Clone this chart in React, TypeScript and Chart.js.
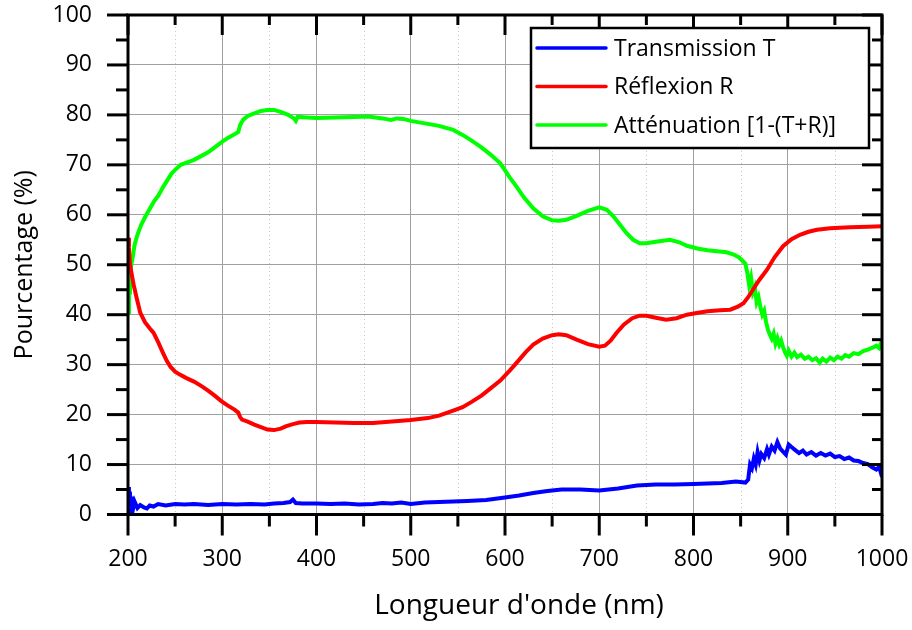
import React, { useEffect, useRef } from "react";
import { Chart, registerables } from "chart.js";

Chart.register(...registerables);

// ---- Data ----
const transX = [200, 201, 202, 203, 204, 205, 207, 210, 213, 217, 220, 223, 227, 232, 240, 250, 260, 270, 285, 300, 315, 330, 345, 355, 365, 372, 375, 378, 385, 400, 415, 430, 445, 460, 470, 480, 490, 500, 515, 530, 545, 560, 580, 600, 615, 630, 645, 660, 680, 700, 720, 740, 760, 780, 800, 815, 830, 845, 855, 858, 860, 862, 864, 866, 868, 870, 872, 875, 878, 880, 883, 886, 889, 892, 895, 898, 901, 904, 908, 912, 916, 920, 925, 930, 935, 940, 945, 950, 955, 960, 965, 970, 975, 980, 985, 990, 994, 997, 1000];
const transmission = [5.5, 1.5, 4.6, 0.3, 3.6, 0.8, 2.6, 1.3, 1.9, 1.4, 1.2, 1.8, 1.6, 2.1, 1.8, 2.1, 2.0, 2.1, 1.9, 2.1, 2.0, 2.1, 2.0, 2.2, 2.3, 2.5, 3.0, 2.3, 2.2, 2.2, 2.1, 2.2, 2.0, 2.1, 2.3, 2.2, 2.4, 2.1, 2.4, 2.5, 2.6, 2.7, 2.9, 3.4, 3.8, 4.3, 4.7, 5.0, 5.0, 4.8, 5.2, 5.8, 6.0, 6.0, 6.1, 6.2, 6.3, 6.6, 6.4, 7.0, 10.0, 9.3, 11.2, 10.0, 12.5, 10.8, 12.1, 11.3, 13.1, 12.0, 13.6, 12.8, 14.5, 13.2, 12.6, 12.0, 14.0, 13.5, 12.9, 12.3, 12.8, 12.0, 12.5, 11.8, 12.3, 11.8, 12.2, 11.5, 11.7, 11.1, 11.4, 10.8, 10.7, 10.3, 10.1, 9.4, 9.0, 9.5, 7.5];

const reflX = [200, 201, 202, 204, 206, 209, 213, 218, 223, 227, 232, 237, 241, 245, 250, 255, 262, 270, 278, 285, 292, 299, 306, 313, 317, 319, 321, 327, 334, 341, 348, 355, 362, 368, 375, 382, 390, 400, 420, 440, 460, 480, 500, 518, 530, 545, 555, 565, 575, 585, 595, 605, 612, 622, 630, 640, 650, 657, 665, 676, 688, 700, 706, 712, 718, 726, 735, 743, 750, 760, 771, 782, 793, 805, 815, 828, 839, 847, 853, 858, 863, 870, 878, 886, 895, 904, 913, 922, 931, 945, 966, 985, 1000];
const reflexion = [55.4, 53.5, 50.3, 48.0, 46.0, 43.5, 40.4, 38.5, 37.3, 36.4, 34.5, 32.4, 30.8, 29.6, 28.6, 28.0, 27.3, 26.6, 25.7, 24.8, 23.8, 22.7, 21.8, 21.0, 20.4, 19.5, 19.0, 18.6, 18.0, 17.5, 17.0, 16.9, 17.2, 17.7, 18.1, 18.4, 18.5, 18.5, 18.4, 18.3, 18.3, 18.6, 18.9, 19.3, 19.8, 20.8, 21.5, 22.6, 23.8, 25.3, 26.8, 28.8, 30.3, 32.5, 34.0, 35.2, 35.9, 36.1, 35.9, 35.0, 34.1, 33.6, 33.8, 34.8, 36.3, 38.0, 39.3, 39.8, 39.8, 39.4, 39.0, 39.3, 40.0, 40.4, 40.7, 40.9, 41.0, 41.6, 42.3, 43.5, 45.0, 47.0, 49.0, 51.5, 53.7, 55.1, 56.0, 56.6, 57.0, 57.3, 57.5, 57.6, 57.7];

const attX = [200, 201, 202, 203, 205, 207, 210, 214, 218, 221, 225, 228, 232, 235, 238, 242, 246, 250, 256, 263, 270, 278, 285, 292, 299, 305, 312, 317, 319, 322, 327, 334, 341, 348, 355, 362, 370, 376, 378, 380, 390, 400, 420, 440, 455, 470, 479, 485, 492, 500, 515, 530, 545, 555, 565, 575, 585, 595, 605, 612, 620, 630, 640, 650, 657, 665, 676, 688, 700, 708, 715, 722, 729, 736, 743, 750, 760, 775, 785, 793, 805, 815, 825, 835, 842, 848, 852, 855, 857, 859, 861, 863, 865, 867, 869, 871, 873, 875, 877, 879, 881, 883, 885, 887, 889, 891, 893, 895, 897, 899, 901, 904, 907, 910, 914, 918, 922, 926, 930, 934, 937, 941, 945, 949, 953, 957, 961, 965, 970, 975, 980, 985, 990, 994, 997, 1000];
const attenuation = [40.5, 46.0, 44.0, 49.5, 51.5, 54.0, 56.0, 58.0, 59.5, 60.5, 61.8, 62.8, 63.8, 64.8, 65.8, 67.0, 68.2, 69.0, 70.0, 70.5, 71.0, 71.8, 72.5, 73.5, 74.5, 75.3, 76.0, 76.6, 78.0, 79.0, 79.8, 80.3, 80.8, 81.0, 81.0, 80.6, 80.0, 79.3, 78.8, 79.6, 79.5, 79.4, 79.5, 79.6, 79.7, 79.3, 79.0, 79.3, 79.2, 78.8, 78.3, 77.8, 77.0, 76.0, 74.8, 73.5, 72.0, 70.3, 67.5, 65.7, 63.5, 61.3, 59.7, 58.9, 58.8, 59.0, 59.8, 60.8, 61.5, 61.0, 59.7, 58.0, 56.3, 55.0, 54.3, 54.3, 54.6, 55.0, 54.5, 53.8, 53.2, 52.9, 52.7, 52.5, 52.1, 51.5, 50.8, 50.2, 48.5, 46.0, 47.5, 44.5, 45.5, 42.5, 43.5, 41.5, 40.0, 40.8, 38.5, 37.0, 36.0, 35.2, 36.2, 34.2, 35.3, 34.0, 34.8, 33.5, 32.5, 31.8, 32.8, 31.6, 32.4, 31.5, 32.0, 31.2, 31.6, 30.9, 31.3, 30.4, 31.2, 30.6, 31.4, 30.9, 31.6, 31.2, 31.9, 31.6, 32.3, 32.1, 32.7, 33.0, 33.4, 33.8, 33.3, 34.8];

const seriesLabels = ["Transmission T", "Réflexion R", "Atténuation [1-(T+R)]"];
const seriesColors = ["#0000ff", "#ff0000", "#00ff00"];
const xTitle = "Longueur d'onde (nm)";
const yTitle = "Pourcentage (%)";

const FONT = "'Open Sans', 'DejaVu Sans', sans-serif";

const toPoints = (xs: number[], ys: number[]) => xs.map((x, i) => ({ x, y: ys[i] }));

const decorPlugin = {
  id: "decor",
  beforeDatasetsDraw(chart: any) {
    const { ctx, chartArea } = chart;
    const xs = chart.scales.x;
    const ticks = xs.ticks.map((t: any) => t.value);
    ctx.save();
    ctx.strokeStyle = "#c8c8c8";
    ctx.lineWidth = 1;
    ctx.setLineDash([1, 3]);
    for (let i = 0; i < ticks.length - 1; i++) {
      const px = Math.round(xs.getPixelForValue((ticks[i] + ticks[i + 1]) / 2)) + 0.5;
      ctx.beginPath();
      ctx.moveTo(px, chartArea.top);
      ctx.lineTo(px, chartArea.bottom);
      ctx.stroke();
    }
    ctx.restore();
  },
  afterDatasetsDraw(chart: any) {
    const { ctx, chartArea } = chart;
    const { left, right, top, bottom } = chartArea;
    const xs = chart.scales.x;
    const ys = chart.scales.y;
    ctx.save();
    ctx.strokeStyle = "#000";
    ctx.lineWidth = 3;
    ctx.setLineDash([]);
    ctx.lineCap = "butt";
    // frame
    ctx.strokeRect(left, top, right - left, bottom - top);
    const line = (x1: number, y1: number, x2: number, y2: number) => {
      ctx.beginPath();
      ctx.moveTo(x1, y1);
      ctx.lineTo(x2, y2);
      ctx.stroke();
    };
    const xt = xs.ticks.map((t: any) => t.value);
    const yt = ys.ticks.map((t: any) => t.value);
    xt.forEach((v: number, i: number) => {
      const px = xs.getPixelForValue(v);
      line(px, bottom, px, bottom + 21);
      line(px, top, px, top + 20);
      if (i < xt.length - 1) {
        const pm = xs.getPixelForValue((v + xt[i + 1]) / 2);
        line(pm, bottom, pm, bottom + 12);
        line(pm, top, pm, top + 10);
      }
    });
    yt.forEach((v: number, i: number) => {
      const py = ys.getPixelForValue(v);
      line(left - 21, py, left, py);
      line(right - 20, py, right, py);
      if (i < yt.length - 1) {
        const pm = ys.getPixelForValue((v + yt[i + 1]) / 2);
        line(left - 12, pm, left, pm);
        line(right - 10, pm, right, pm);
      }
    });
    // x axis title (slightly right of centre, as in the reference)
    ctx.fillStyle = "#000";
    ctx.font = `28px ${FONT}`;
    ctx.textAlign = "center";
    ctx.textBaseline = "middle";
    ctx.fillText(xTitle, (left + right) / 2 + 14, 606);
    // legend
    const bx = 531, by = 28, bw = 338, bh = 120;
    ctx.fillStyle = "#fff";
    ctx.fillRect(bx, by, bw, bh);
    ctx.lineWidth = 2.5;
    ctx.strokeRect(bx, by, bw, bh);
    ctx.font = `23px ${FONT}`;
    ctx.textBaseline = "middle";
    ctx.textAlign = "left";
    seriesLabels.forEach((lab, i) => {
      const yy = 48 + i * 38.5;
      ctx.strokeStyle = seriesColors[i];
      ctx.lineWidth = 3.5;
      ctx.lineCap = "round";
      line(537, yy, 606, yy);
      ctx.fillStyle = "#000";
      ctx.fillText(lab, 614, yy + 1);
    });
    ctx.restore();
  },
};

export default function App() {
  const ref = useRef<HTMLCanvasElement | null>(null);
  useEffect(() => {
    if (!ref.current) return;
    const chart = new Chart(ref.current, {
      type: "line",
      data: {
        datasets: [
          { label: seriesLabels[0], data: toPoints(transX, transmission), borderColor: seriesColors[0], borderWidth: 4, pointRadius: 0, tension: 0 },
          { label: seriesLabels[1], data: toPoints(reflX, reflexion), borderColor: seriesColors[1], borderWidth: 4, pointRadius: 0, tension: 0 },
          { label: seriesLabels[2], data: toPoints(attX, attenuation), borderColor: seriesColors[2], borderWidth: 4, pointRadius: 0, tension: 0 },
        ],
      },
      options: {
        animation: false,
        responsive: false,
        devicePixelRatio: 1,
        layout: { padding: { top: 15, right: 30, left: 0, bottom: 0 } },
        plugins: { legend: { display: false }, tooltip: { enabled: false } },
        scales: {
          x: {
            type: "linear",
            min: 200,
            max: 1000,
            afterFit: (s: any) => { s.height = 115.5; },
            ticks: { stepSize: 100, color: "#000", font: { family: FONT, size: 23 }, padding: 0, maxRotation: 0, callback: (v: any) => String(v) },
            grid: { color: "#a0a0a0", lineWidth: 1, drawTicks: true, tickLength: 31, tickColor: "rgba(0,0,0,0)" },
            border: { display: false },
            title: { display: false, text: xTitle },
          },
          y: {
            min: 0,
            max: 100,
            afterFit: (s: any) => { s.width = 128; },
            ticks: { stepSize: 10, color: "#000", font: { family: FONT, size: 23 }, padding: 0, callback: (v: any) => String(v) },
            grid: { color: "#a0a0a0", lineWidth: 1, drawTicks: true, tickLength: 36, tickColor: "rgba(0,0,0,0)" },
            border: { display: false },
            title: { display: true, text: yTitle, color: "#000", font: { family: FONT, size: 25 }, padding: { top: 10, bottom: 0 } },
          },
        },
      },
      plugins: [decorPlugin],
    } as any);
    return () => chart.destroy();
  }, []);
  return (
    <div style={{ position: "fixed", left: 0, top: 0, width: 912, height: 630, background: "#fff" }}>
      <canvas ref={ref} width={912} height={630} style={{ width: 912, height: 630, display: "block" }} />
    </div>
  );
}
